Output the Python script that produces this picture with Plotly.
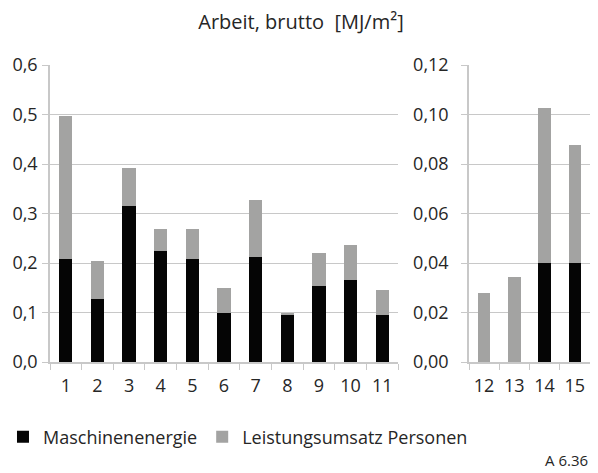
import plotly.graph_objects as go
from plotly.subplots import make_subplots

cats_left = ["1", "2", "3", "4", "5", "6", "7", "8", "9", "10", "11"]
machine_left = [0.208, 0.127, 0.315, 0.224, 0.208, 0.099, 0.212, 0.095, 0.153, 0.165, 0.095]
persons_left = [0.288, 0.077, 0.077, 0.045, 0.061, 0.050, 0.115, 0.005, 0.067, 0.071, 0.050]

cats_right = ["12", "13", "14", "15"]
machine_right = [0.0, 0.0, 0.040, 0.040]
persons_right = [0.028, 0.0345, 0.0625, 0.0475]

title_text = "Arbeit, brutto  [MJ/m²]"
series_names = ["Maschinenenergie", "Leistungsumsatz Personen"]
colors = ["#050505", "#a3a3a2"]
FONT = "Open Sans"
TXT = "#262626"
GRID = "#c8c8c8"

fig = make_subplots(rows=1, cols=2)

fig.add_trace(go.Bar(x=cats_left, y=machine_left, name=series_names[0],
                     marker=dict(color=colors[0], line=dict(width=0)),
                     legendgroup="m"), row=1, col=1)
fig.add_trace(go.Bar(x=cats_left, y=persons_left, name=series_names[1],
                     marker=dict(color=colors[1], line=dict(width=0)),
                     legendgroup="p"), row=1, col=1)
fig.add_trace(go.Bar(x=cats_right, y=machine_right, name=series_names[0],
                     marker=dict(color=colors[0], line=dict(width=0)),
                     legendgroup="m", showlegend=False), row=1, col=2)
fig.add_trace(go.Bar(x=cats_right, y=persons_right, name=series_names[1],
                     marker=dict(color=colors[1], line=dict(width=0)),
                     legendgroup="p", showlegend=False), row=1, col=2)

tf = dict(family=FONT, size=18, color=TXT)
ydom = [1 - 362 / 473, 1 - 65 / 473]
xcommon = dict(type="category", showline=True, linecolor=GRID, linewidth=1.5,
               ticks="outside", tickson="boundaries", ticklen=6, tickcolor=GRID,
               tickfont=tf, showgrid=False, zeroline=False, ticklabelstandoff=7,
               automargin=False)
fig.update_xaxes(domain=[50 / 598, 398 / 598], row=1, col=1, **xcommon)
fig.update_xaxes(domain=[469 / 598, 590 / 598], row=1, col=2, **xcommon)

ycommon = dict(showline=True, linecolor=GRID, linewidth=1.5, ticks="outside",
               ticklen=6, tickcolor=GRID, showgrid=True, gridcolor=GRID,
               gridwidth=1, zeroline=False, domain=ydom, tickfont=tf,
               automargin=False)
fig.update_yaxes(range=[0, 0.6], dtick=0.1, tickformat=".1f",
                 ticklabelstandoff=1, row=1, col=1, **ycommon)
fig.update_yaxes(range=[0, 0.12], dtick=0.02, tickformat=".2f",
                 ticklabelstandoff=9, row=1, col=2, **ycommon)

fig.update_layout(
    template="none",
    width=598, height=473,
    margin=dict(l=0, r=0, t=0, b=0, pad=0),
    paper_bgcolor="white", plot_bgcolor="white",
    barmode="stack", bargap=0.58,
    separators=",.",
    font=tf,
    title=dict(text=title_text, x=301 / 598, xanchor="center", y=1 - 22 / 473,
               yanchor="middle", font=dict(family=FONT, size=20, color=TXT)),
    legend=dict(orientation="h", x=0.005, xanchor="left", y=1 - 437 / 473,
                yanchor="middle", font=tf, itemwidth=30, traceorder="normal",
                bgcolor="rgba(0,0,0,0)"),
    showlegend=True,
)
fig.add_annotation(text="A 6.36", xref="paper", yref="paper", x=1 - 8 / 598,
                   y=1 - 460 / 473, xanchor="right", yanchor="middle",
                   showarrow=False, font=dict(family=FONT, size=15, color=TXT))

fig.write_html("out.html", config={"displayModeBar": False})

with open("out.html", "r", encoding="utf-8") as f:
    html = f.read()
html = html.replace("<head>", "<head><style>html,body{margin:0;padding:0;overflow:hidden}</style>", 1)
with open("out.html", "w", encoding="utf-8") as f:
    f.write(html)
